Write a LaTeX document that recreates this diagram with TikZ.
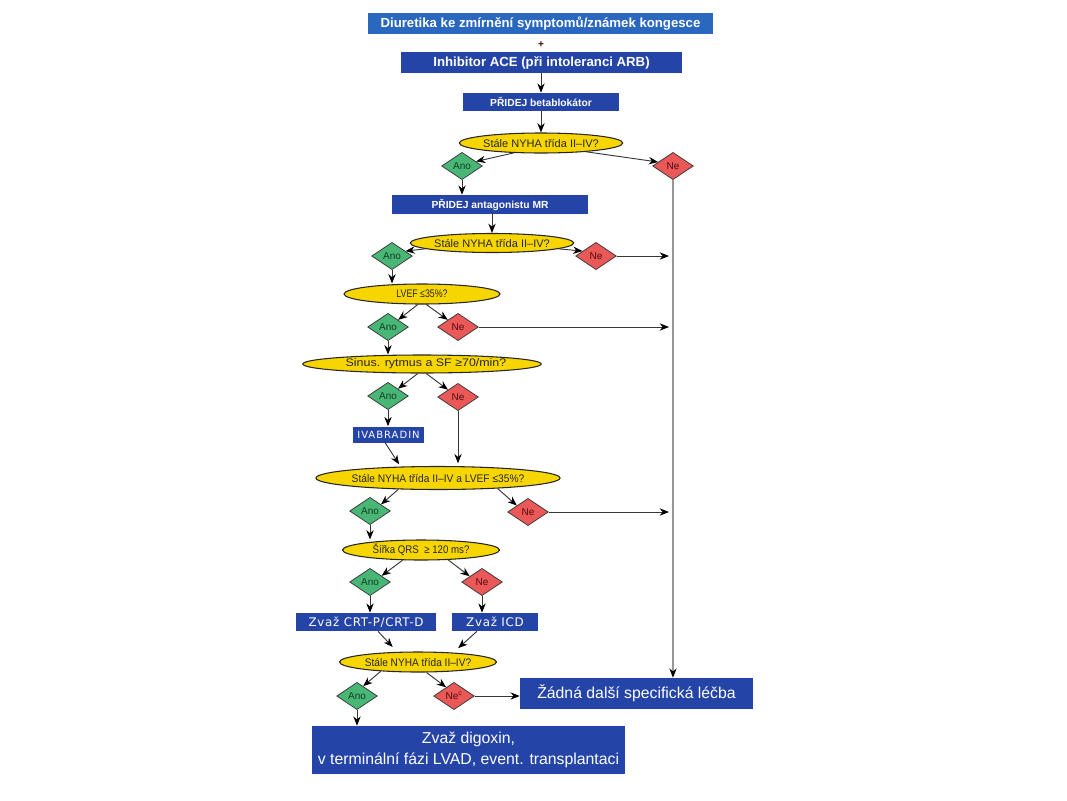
\documentclass[tikz,border=0pt]{standalone}
\usepackage{fontspec}
\usepackage{graphicx}
\setmainfont{Liberation Sans}
\newfontfamily\spaced[LetterSpace=6]{DejaVu Sans}
\newfontfamily\spacedb[LetterSpace=10]{DejaVu Sans}
\usetikzlibrary{shapes.geometric,arrows.meta,calc}
\definecolor{topblue}{RGB}{42,104,192}
\definecolor{boxblue}{RGB}{36,68,168}
\definecolor{qyellow}{RGB}{247,214,0}
\definecolor{anogreen}{RGB}{72,183,118}
\definecolor{nered}{RGB}{234,88,88}
\definecolor{lnc}{RGB}{55,55,55}
\definecolor{railc}{RGB}{150,150,150}
\definecolor{anotext}{RGB}{20,60,35}
\definecolor{netext}{RGB}{80,15,15}
\newcommand{\hsx}[2]{\scalebox{#1}[1]{#2}}
\begin{document}
\begin{tikzpicture}[x=0.75pt,y=-0.75pt,
  bx/.style={rectangle, fill=boxblue, text=white, inner sep=0pt, align=center},
  qq/.style={ellipse, draw=black!85, line width=0.8pt, fill=qyellow, inner sep=0pt,
    text=black!85, font=\fontsize{8.25}{9}\selectfont},
  ano/.style={diamond, draw=black!75, line width=0.6pt, fill=anogreen, inner sep=0pt,
    minimum width=30.5pt, minimum height=20.5pt, text=anotext, font=\fontsize{7.5}{8}\selectfont},
  nee/.style={ano, fill=nered, text=netext},
  arr/.style={draw=lnc, line width=0.7pt, -{Stealth[length=7pt,width=5.5pt,color=black]}},
  railarr/.style={draw=railc, line width=0.9pt, -{Stealth[length=7pt,width=5.5pt,color=black]}}
]
\useasboundingbox (0,0) rectangle (1067,800);

% boxes on top
\node[bx, fill=topblue, minimum width=258.75pt, minimum height=15.75pt,
  font=\bfseries\fontsize{9.9}{11}\selectfont] (top) at (540.5,23.5)
  {Diuretika ke zmírnění symptomů/známek kongesce};
\node[inner sep=0pt, text=black!70!red, font=\bfseries\fontsize{7.5}{7.5}\selectfont] (plus) at (541,44.5) {+};
\node[bx, minimum width=210.75pt, minimum height=15.75pt,
  font=\bfseries\fontsize{9.9}{11}\selectfont] (ace) at (541.5,62.5)
  {Inhibitor ACE (při intoleranci ARB)};
\node[bx, minimum width=117pt, minimum height=13.5pt,
  font=\bfseries\fontsize{7.7}{9}\selectfont] (beta) at (541,102)
  {PŘIDEJ betablokátor};

\node[qq, minimum width=99pt, minimum height=15pt] (q1) at (541,143) {Stále NYHA třída II–IV?};
\node[ano] (a1) at (462,166) {Ano};
\node[nee] (n1) at (673,166) {Ne};

\node[bx, minimum width=147pt, minimum height=14.25pt,
  font=\bfseries\fontsize{7.7}{9}\selectfont] (mr) at (490,204.5)
  {PŘIDEJ antagonistu MR};

\node[qq, minimum width=98.25pt, minimum height=14.25pt] (q2) at (492,243) {Stále NYHA třída II–IV?};
\node[ano] (a2) at (392,256) {Ano};
\node[nee] (n2) at (596,256) {Ne};

\node[qq, minimum width=117pt, minimum height=15pt] (q3) at (422,294) {\hsx{0.8}{LVEF ≤35\%?}};
\node[ano] (a3) at (388,327) {Ano};
\node[nee] (n3) at (458,327) {Ne};

\node[qq, minimum width=174.75pt, minimum height=13.5pt] (q4) at (422,364) {\hspace*{6pt}\hsx{1.13}{Sinus. rytmus a SF ≥70/min?}};
\node[ano] (a4) at (388,396) {Ano};
\node[nee] (n4) at (458,397) {Ne};

\node[bx, minimum width=53.25pt, minimum height=12pt,
  font=\spacedb\fontsize{7.5}{8}\selectfont] (ivab) at (388.5,434.5) {IVABRADIN};

\node[qq, minimum width=158.25pt, minimum height=17.25pt] (q5) at (438,478) {\hsx{0.93}{Stále NYHA třída II–IV a LVEF ≤35\%?}};
\node[ano] (a5) at (370,511) {Ano};
\node[nee] (n5) at (528,512) {Ne};

\node[qq, minimum width=117.75pt, minimum height=15pt] (q6) at (421,550) {\hsx{0.88}{Šířka QRS\ \ ≥ 120 ms?}};
\node[ano] (a6) at (370,582) {Ano};
\node[nee] (n6) at (482,582) {Ne};

\node[bx, minimum width=105pt, minimum height=13.5pt,
  font=\spaced\fontsize{8.9}{9}\selectfont] (crt) at (366,622) {Zvaž CRT-P/CRT-D};
\node[bx, minimum width=64.5pt, minimum height=13.5pt,
  font=\spaced\fontsize{8.9}{9}\selectfont] (icd) at (495,622) {Zvaž ICD};

\node[qq, minimum width=117.75pt, minimum height=15pt] (q7) at (418,662) {\hsx{0.92}{Stále NYHA třída II–IV?}};
\node[ano] (a7) at (357,696) {Ano};
\node[nee] (n7) at (454,696) {Ne\textsuperscript{c}};

\node[bx, minimum width=174.75pt, minimum height=23.25pt,
  font=\fontsize{11.85}{14}\selectfont] (none) at (636.5,693.5) {Žádná další specifická léčba};
\node[bx, minimum width=234.75pt, minimum height=36pt,
  font=\fontsize{11.85}{16}\selectfont] (dig) at (468.5,750)
  {Zvaž digoxin,\\v terminální fázi LVAD, event. transplantaci};

\coordinate (rail) at (669,0);

% connectors
\draw[arr] (beta.north |- ace.south) -- (beta.north);
\draw[arr] (beta.south) -- (q1.north);
\draw[arr] (q1.200) -- (a1.18);
\draw[arr] (q1.349) -- (n1.165);
\draw[arr] (a1.south) -- (a1.south |- mr.north);
\draw[railarr] (n1.south) -- (n1.south |- none.north);

\draw[arr] (q2.north |- mr.south) -- (q2.north);
\draw[arr] (q2.185) -- (a2.20);
\draw[arr] (q2.355) -- (n2.160);
\draw[arr] (n2.east) -- (n2.east -| rail);
\draw[arr] (a2.south) -- (a2.south |- q3.north);

\draw[arr] (q3.248) -- (a3.35);
\draw[arr] (q3.292) -- (n3.145);
\draw[arr] (n3.east) -- (n3.east -| rail);
\draw[arr] (a3.south) -- (a3.south |- q4.north);

\draw[arr] (q4.246) -- (a4.36);
\draw[arr] (q4.294) -- (n4.144);
\draw[arr] (a4.south) -- (a4.south |- ivab.north);
\draw[arr, shorten >=2pt] (n4.south) -- (n4.south |- q5.north);
\draw[arr, shorten >=2pt] ([xshift=-2.5pt]ivab.south) -- (q5.163);

\draw[arr] (q5.196) -- (a5.31);
\draw[arr] (q5.350) -- (n5.150);
\draw[arr] (n5.east) -- (n5.east -| rail);
\draw[arr] (a5.south) -- (a5.south |- q6.north);

\draw[arr] (q6.209) -- (a6.28);
\draw[arr] (q6.340) -- (n6.155);
\draw[arr] (a6.south) -- (a6.south |- crt.north);
\draw[arr] (n6.south) -- (n6.south |- icd.north);

\draw[arr, shorten >=5pt] ([xshift=9pt]crt.south) -- (q7.154);
\draw[arr, shorten >=5pt] ([xshift=-13.5pt]icd.south) -- (q7.15);

\draw[arr] (q7.194) -- (a7.58);
\draw[arr] (q7.309) -- (n7.132);
\draw[arr] (n7.east) -- (n7.east -| none.west);
\draw[arr] (a7.south) -- (a7.south |- dig.north);
\end{tikzpicture}
\end{document}
